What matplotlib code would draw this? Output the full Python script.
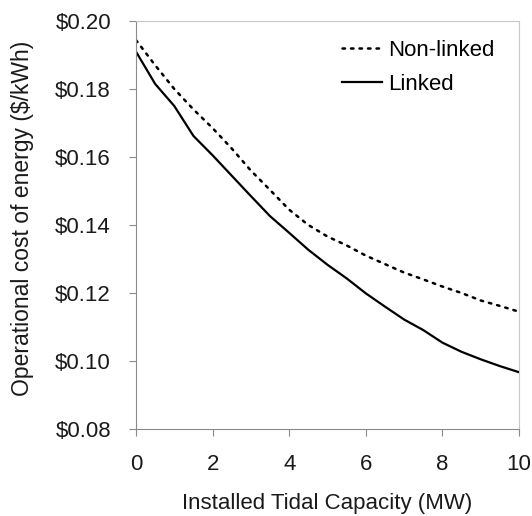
import matplotlib.pyplot as plt
from matplotlib.ticker import FuncFormatter

plt.rcParams['font.family'] = ['Liberation Sans', 'DejaVu Sans']

# installed tidal capacity (MW)
capacity = [0, 0.5, 1, 1.5, 2, 2.5, 3, 3.5, 4, 4.5, 5,
            5.5, 6, 6.5, 7, 7.5, 8, 8.5, 9, 9.5, 10]
# operational cost of energy ($/kWh)
non_linked = [0.1944, 0.1870, 0.1800, 0.1740, 0.1685, 0.1625, 0.1560, 0.1503,
              0.1445, 0.1400, 0.1366, 0.1340, 0.1310, 0.1285, 0.1260, 0.1240,
              0.1219, 0.1200, 0.1178, 0.1162, 0.1145]
linked = [0.1910, 0.1815, 0.1750, 0.1662, 0.1605, 0.1545, 0.1485, 0.1426,
          0.1377, 0.1327, 0.1283, 0.1243, 0.1199, 0.1160, 0.1122, 0.1091,
          0.1054, 0.1027, 0.1005, 0.0985, 0.0967]
x_ticks = [0, 2, 4, 6, 8, 10]
y_ticks = [0.08, 0.10, 0.12, 0.14, 0.16, 0.18, 0.20]

fig = plt.figure(figsize=(5.32, 5.16), dpi=100)
ax = fig.add_axes([0.2556, 0.1686, 0.72, 0.7907])

ax.plot(capacity, non_linked, color='black', lw=1.8, linestyle=(0, (1, 2.4)),
        dash_capstyle='round', label='Non-linked')
ax.plot(capacity, linked, color='black', lw=1.6, label='Linked')

ax.set_xlim(0, 10)
ax.set_ylim(0.08, 0.20)
ax.set_xticks(x_ticks)
ax.set_yticks(y_ticks)
ax.yaxis.set_major_formatter(FuncFormatter(lambda v, p: '\\$%.2f' % v))

for side in ['left', 'bottom']:
    ax.spines[side].set_color('#8a8a8a')
for side in ['top', 'right']:
    ax.spines[side].set_color('#c8c8c8')
ax.tick_params(axis='both', direction='out', length=5, color='#8a8a8a',
               labelsize=16, labelcolor='#1a1a1a')
ax.tick_params(axis='y', pad=13)
ax.tick_params(axis='x', pad=13)

ax.set_xlabel('Installed Tidal Capacity (MW)', fontsize=16, color='#1a1a1a', labelpad=13)
ax.set_ylabel('Operational cost of energy (\\$/kWh)', fontsize=16.5, color='#1a1a1a')
ax.yaxis.set_label_coords(-0.265, 0.517)

ax.legend(loc='upper right', bbox_to_anchor=(0.96, 0.975), frameon=False, fontsize=16,
          handlelength=1.8, handletextpad=0.3, labelspacing=0.58, borderaxespad=0.0)

fig.savefig('out.png', dpi=100)
